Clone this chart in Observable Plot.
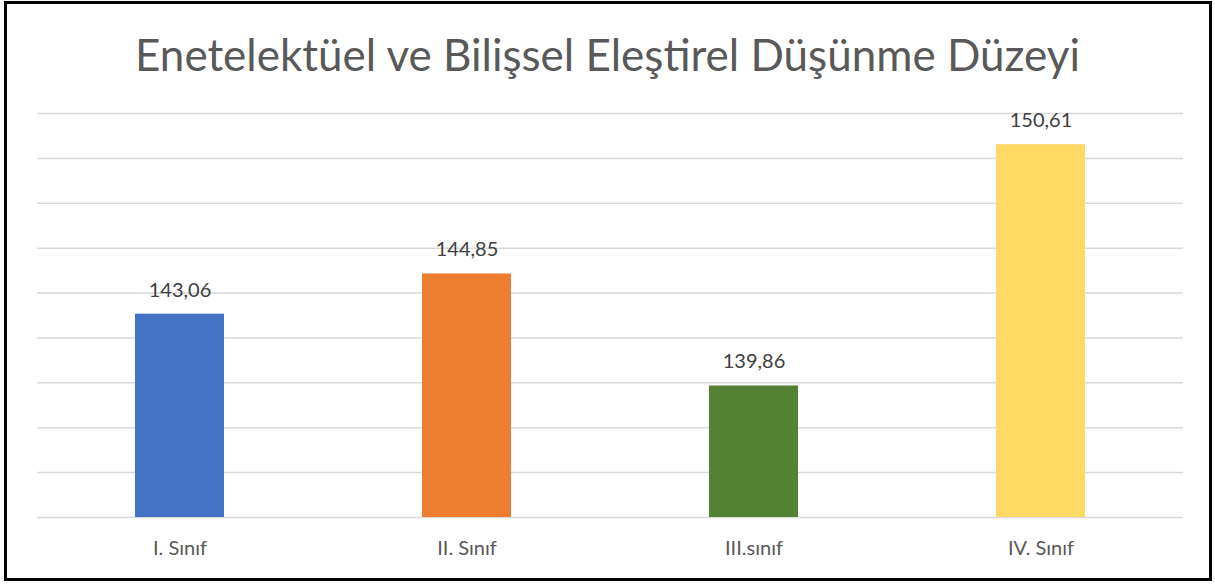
<!DOCTYPE html>
<html><head><meta charset="utf-8">
<script src="https://cdn.jsdelivr.net/npm/d3@7"></script>
<script src="https://cdn.jsdelivr.net/npm/@observablehq/plot@0.6"></script>
<style>
body{margin:0;background:#fff;font-family:Lato,"Open Sans",sans-serif;}
#frame{position:absolute;left:4px;top:1px;width:1208px;height:580px;border:3px solid #000;box-sizing:border-box;}
#title{position:absolute;left:0;top:26px;width:1215px;text-align:center;font-size:44px;color:#595959;font-family:Lato,sans-serif;line-height:56px;}
#chart{position:absolute;left:0;top:0;}
</style></head>
<body>
<div id="frame"></div>
<div id="title">Enetelektüel ve Bilişsel Eleştirel Düşünme Düzeyi</div>
<div id="chart"></div>
<script>
const categories = ["I. Sınıf", "II. Sınıf", "III.sınıf", "IV. Sınıf"];
const values = [143.06, 144.85, 139.86, 150.61];
const colors = ["#4472C4", "#ED7D31", "#548235", "#FFD966"];
const gridTicks = [134, 136, 138, 140, 142, 144, 146, 148, 150, 152];

const data = categories.map((c, i) => ({cat: c, v: values[i], col: colors[i]}));
const fmt = v => v.toFixed(2).replace(".", ",");

const plot = Plot.plot({
  width: 1215,
  height: 585,
  marginTop: 113,
  marginBottom: 68,
  marginLeft: 37,
  marginRight: 32,
  style: {background: "transparent", fontFamily: "Lato, sans-serif"},
  x: {domain: categories, paddingInner: 0.69, paddingOuter: 0.3415, label: null},
  y: {domain: [134, 152], label: null},
  marks: [
    Plot.ruleY(gridTicks, {stroke: "#d9d9d9", strokeWidth: 1.5}),
    Plot.barY(data, {x: "cat", y1: 134, y2: "v", fill: "col"}),
    Plot.text(data, {x: "cat", y: "v", text: d => fmt(d.v), dy: -24, fontSize: 20, fill: "#404040"}),
    Plot.axisX({tickSize: 0, tickPadding: 23, fontSize: 20, color: "#595959", label: null}),
    Plot.axisY({ticks: [], label: null})
  ]
});
document.getElementById("chart").appendChild(plot);
</script>
</body></html>
